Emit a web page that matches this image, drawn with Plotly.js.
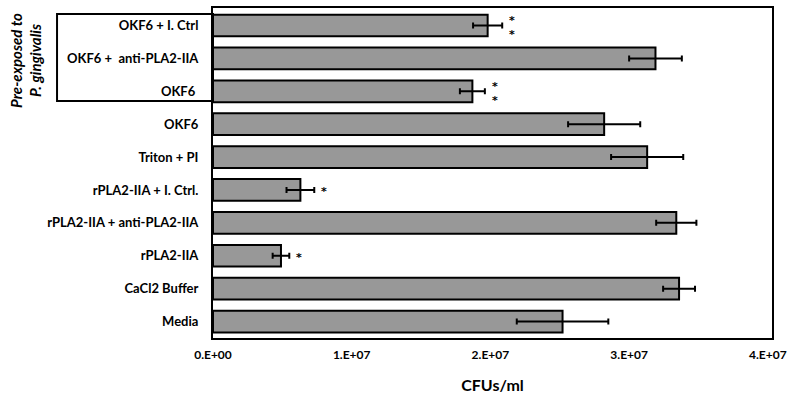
<!DOCTYPE html>
<html>
<head>
<meta charset="utf-8">
<script src="https://cdn.plot.ly/plotly-3.0.1.min.js"></script>
<style>
  body { margin: 0; background: #fff; }
  #chart { width: 800px; height: 404px; }
</style>
</head>
<body>
<div id="chart"></div>
<script>
// categories, top to bottom
var groups = [
  "OKF6 + I. Ctrl",
  "OKF6 +  anti-PLA2-IIA",
  "OKF6 ",
  "OKF6",
  "Triton + PI",
  "rPLA2-IIA + I. Ctrl.",
  "rPLA2-IIA + anti-PLA2-IIA",
  "rPLA2-IIA",
  "CaCl2 Buffer",
  "Media"
];
var cfu = [1.98e7, 3.19e7, 1.87e7, 2.82e7, 3.13e7, 0.63e7, 3.34e7, 0.49e7, 3.36e7, 2.52e7];
var cfuErr = [1.05e6, 1.9e6, 0.9e6, 2.6e6, 2.6e6, 1.0e6, 1.45e6, 0.6e6, 1.15e6, 3.3e6];
var stars = ["*<br>*", "", "*<br>*", "", "", "*", "", "*", "", ""];

var xTicks = [0, 1e7, 2e7, 3e7, 4e7];
var xTickText = ["0.E+00", "1.E+07", "2.E+07", "3.E+07", "4.E+07"];

var font = "Lato, 'Open Sans', sans-serif";

var bars = {
  type: "bar",
  orientation: "h",
  y: groups,
  x: cfu,
  width: 0.66,
  marker: { color: "#989898", line: { color: "#000", width: 2 } },
  error_x: { type: "data", array: cfuErr, visible: true, color: "#000", thickness: 2, width: 3 },
  hoverinfo: "none"
};

var notes = [];
for (var i = 0; i < groups.length; i++) {
  if (!stars[i]) continue;
  notes.push({
    x: cfu[i] + cfuErr[i], y: groups[i], xref: "x", yref: "y",
    text: "<b>" + stars[i] + "</b>", showarrow: false,
    xanchor: "left", yanchor: "middle", xshift: 5, yshift: -2,
    font: { family: "'DejaVu Sans', sans-serif", size: 11, color: "#000" }
  });
}
notes.push({
  x: -0.335, y: 0.842, xref: "paper", yref: "paper",
  xanchor: "center", yanchor: "middle",
  text: "<b><i>Pre-exposed to<br>P. gingivalis</i></b>",
  textangle: -90, showarrow: false,
  font: { family: font, size: 15, color: "#000" }
});

var layout = {
  width: 800, height: 404,
  margin: { l: 213, r: 28, t: 8, b: 66 },
  paper_bgcolor: "#fff", plot_bgcolor: "#fff",
  showlegend: false,
  bargap: 0.34,
  xaxis: {
    range: [0, 4.03e7],
    tickvals: xTicks, ticktext: xTickText,
    showgrid: false, zeroline: false,
    showline: true, mirror: true, linecolor: "#000", linewidth: 2,
    ticks: "outside", ticklen: 5, tickcolor: "rgba(0,0,0,0)",
    tickfont: { family: font, size: 12, color: "#000", weight: "bold" },
    title: { text: "<b>CFUs/ml</b>", font: { family: font, size: 16, color: "#000" }, standoff: 18 }
  },
  yaxis: {
    autorange: "reversed",
    showgrid: false, zeroline: false,
    showline: true, mirror: true, linecolor: "#000", linewidth: 2,
    ticks: "outside", ticklen: 10, tickcolor: "rgba(0,0,0,0)",
    tickfont: { family: font, size: 13, color: "#000", weight: "bold" }
  },
  shapes: [{
    type: "rect", xref: "paper", yref: "paper",
    x0: -0.279, x1: 0, y0: 0.718, y1: 0.982,
    line: { color: "#000", width: 2 }, fillcolor: "rgba(0,0,0,0)"
  }],
  annotations: notes
};

Plotly.newPlot("chart", [bars], layout, { displayModeBar: false, staticPlot: true });
</script>
</body>
</html>
